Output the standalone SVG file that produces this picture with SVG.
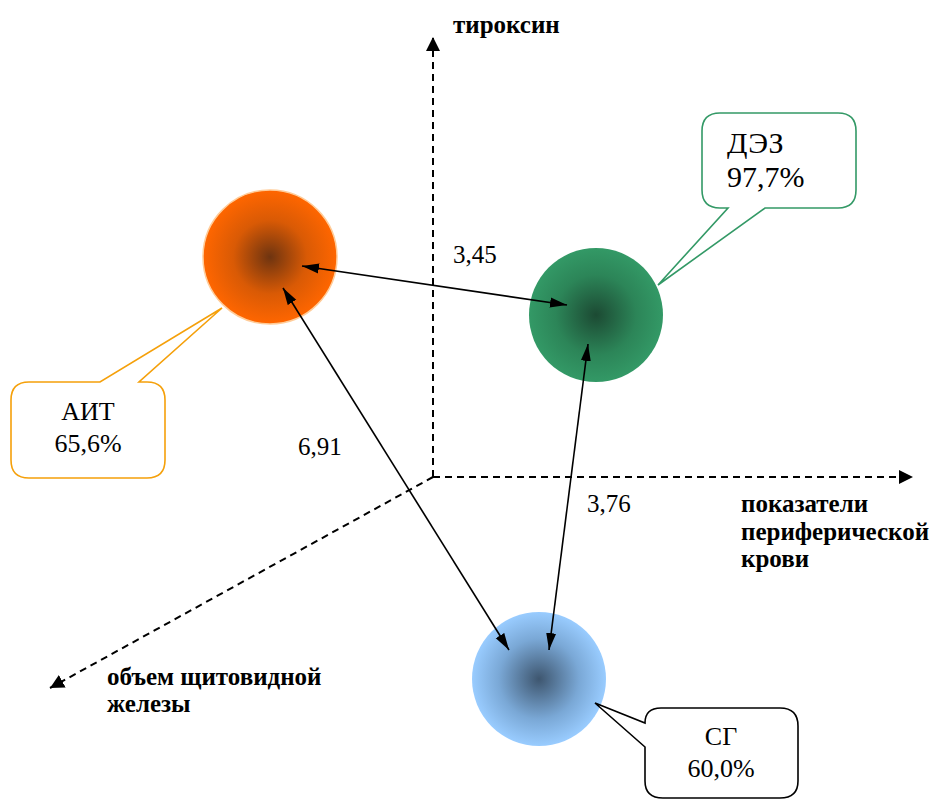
<svg xmlns="http://www.w3.org/2000/svg" width="942" height="801" viewBox="0 0 942 801" font-family="Liberation Serif, Times New Roman, serif">
<defs>
<radialGradient id="gOrange" cx="50%" cy="50%" r="50%">
<stop offset="0" stop-color="#6e3410"/>
<stop offset="0.55" stop-color="#d95a05"/>
<stop offset="1" stop-color="#ff6600"/>
</radialGradient>
<radialGradient id="gGreen" cx="50%" cy="50%" r="50%">
<stop offset="0" stop-color="#1c4a33"/>
<stop offset="0.6" stop-color="#2c8558"/>
<stop offset="1" stop-color="#339966"/>
</radialGradient>
<radialGradient id="gBlue" cx="50%" cy="50%" r="50%">
<stop offset="0" stop-color="#3e566f"/>
<stop offset="0.6" stop-color="#7aa8d6"/>
<stop offset="1" stop-color="#99ccff"/>
</radialGradient>
<marker id="axh" markerUnits="userSpaceOnUse" markerWidth="16" markerHeight="16" refX="14" refY="7" orient="auto" viewBox="0 0 16 14">
<path d="M0,0 L14,7 L0,14 Z" fill="#000"/>
</marker>
<marker id="ah" markerUnits="userSpaceOnUse" markerWidth="18" markerHeight="12" refX="17" refY="5" orient="auto-start-reverse" viewBox="0 0 18 10">
<path d="M0,0 L17,5 L0,10 Z" fill="#000"/>
</marker>
</defs>
<style>
.axis{stroke:#000;stroke-width:2;stroke-dasharray:7,5;fill:none}
.conn{stroke:#000;stroke-width:1.6;fill:none}
.val{font-size:25px;fill:#000}
.ax{font-size:25px;font-weight:bold;fill:#000}
.cl{font-size:26px;fill:#000}
.big{font-size:30px;fill:#000}
.box{fill:#fff;stroke-width:1.6}
</style>
<rect width="942" height="801" fill="#fff"/>
<g id="axes">
<line class="axis" x1="433" y1="477" x2="433" y2="37" marker-end="url(#axh)"/>
<line class="axis" x1="433" y1="477" x2="913" y2="477" marker-end="url(#axh)"/>
<line class="axis" x1="433" y1="477" x2="50" y2="688" marker-end="url(#axh)"/>
<text class="ax" x="453" y="33">тироксин</text>
<text class="ax" x="741" y="512">показатели</text>
<text class="ax" x="741" y="540">периферической</text>
<text class="ax" x="741" y="567">крови</text>
<text class="ax" x="107" y="685">объем щитовидной</text>
<text class="ax" x="107" y="712">железы</text>
</g>
<g id="node-ait">
<circle cx="270" cy="257" r="67" fill="url(#gOrange)" stroke="#ffcc99" stroke-width="1.5"/>
</g>
<g id="node-dez">
<circle cx="596" cy="315" r="67" fill="url(#gGreen)"/>
</g>
<g id="node-sg">
<circle cx="539" cy="679" r="67" fill="url(#gBlue)"/>
</g>
<g id="connectors">
<line class="conn" x1="302" y1="266" x2="567" y2="305" marker-start="url(#ah)" marker-end="url(#ah)"/>
<line class="conn" x1="283" y1="288" x2="509" y2="650" marker-start="url(#ah)" marker-end="url(#ah)"/>
<line class="conn" x1="588" y1="344" x2="549" y2="650" marker-start="url(#ah)" marker-end="url(#ah)"/>
<text class="val" x="453" y="263">3,45</text>
<text class="val" x="298" y="455">6,91</text>
<text class="val" x="587" y="512">3,76</text>
</g>
<g id="callout-ait">
<path class="box" stroke="#f5a00a" d="M29,382 L100,382 L222,308 L139,382 L147,382 Q165,382 165,400 L165,460 Q165,478 147,478 L29,478 Q11,478 11,460 L11,400 Q11,382 29,382 Z"/>
<text class="cl" x="88" y="420" text-anchor="middle">АИТ</text>
<text class="cl" x="88" y="452" text-anchor="middle">65,6%</text>
</g>
<g id="callout-dez">
<path class="box" stroke="#339966" d="M720,113 L838,113 Q856,113 856,131 L856,190 Q856,208 838,208 L765,208 L658,285 L728,208 L720,208 Q702,208 702,190 L702,131 Q702,113 720,113 Z"/>
<text class="big" x="727" y="153">ДЭЗ</text>
<text class="big" x="727" y="187">97,7%</text>
</g>
<g id="callout-sg">
<path class="box" stroke="#000" d="M661,708 L780,708 Q798,708 798,726 L798,781 Q798,798 780,798 L663,798 Q645,798 645,781 L645,747 L595,703 L645,723 Q645,708 661,708 Z"/>
<text class="cl" x="721" y="745" text-anchor="middle">СГ</text>
<text class="cl" x="721" y="777" text-anchor="middle">60,0%</text>
</g>
</svg>
